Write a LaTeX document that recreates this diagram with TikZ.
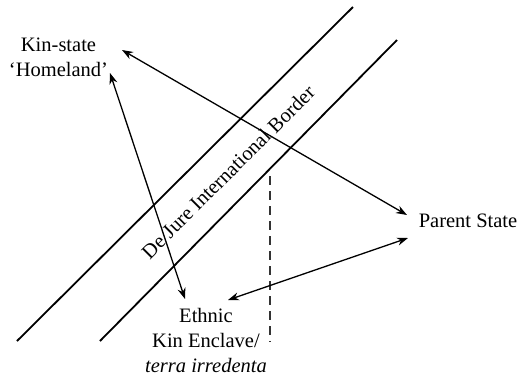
\documentclass[tikz,border=0pt]{standalone}
\usepackage{fontspec}
\setmainfont{Liberation Serif}
\usetikzlibrary{arrows.meta}
\begin{document}
\begin{tikzpicture}[x=1pt,y=-1pt,
  lbl/.style={font=\fontsize{20.5}{25}\selectfont, align=center, inner sep=0pt},
  border/.style={line width=1.8pt},
  conn/.style={line width=1.3pt, {Stealth[length=11pt,width=8pt]}-{Stealth[length=11pt,width=8pt]}},
  dashline/.style={line width=1.3pt, dash pattern=on 9pt off 6pt, black!80}]
\useasboundingbox (0,0) rectangle (520,376);
% border lines
\coordinate (b1s) at (17,341);
\coordinate (b1e) at (353,7);
\coordinate (b2s) at (100,341);
\coordinate (b2e) at (397,40);
\draw[border] (b1s) -- (b1e);
\draw[border] (b2s) -- (b2e);
\node[lbl, rotate=45] (blabel) at (228,172) {De Jure International Border};
% dashed line
\coordinate (d1) at (270,176);
\coordinate (d2) at (270,342);
\draw[dashline] (d1) -- (d2);
% labels
\node[lbl] (kin) at (58.5,57.5) {Kin-state\\‘Homeland’};
\node[lbl] (parent) at (468,221) {Parent State};
\node[lbl] (ethnic) at (206,340) {Ethnic\\Kin Enclave/\\\textit{terra irredenta}};
% arrow endpoints
\coordinate (kA) at (122,50);
\coordinate (kB) at (110,73);
\coordinate (pA) at (407,215);
\coordinate (pB) at (408,238);
\coordinate (eA) at (185,299);
\coordinate (eB) at (228,300);
\draw[conn] (kA) -- (pA);
\draw[conn] (kB) -- (eA);
\draw[conn] (eB) -- (pB);
\end{tikzpicture}
\end{document}
